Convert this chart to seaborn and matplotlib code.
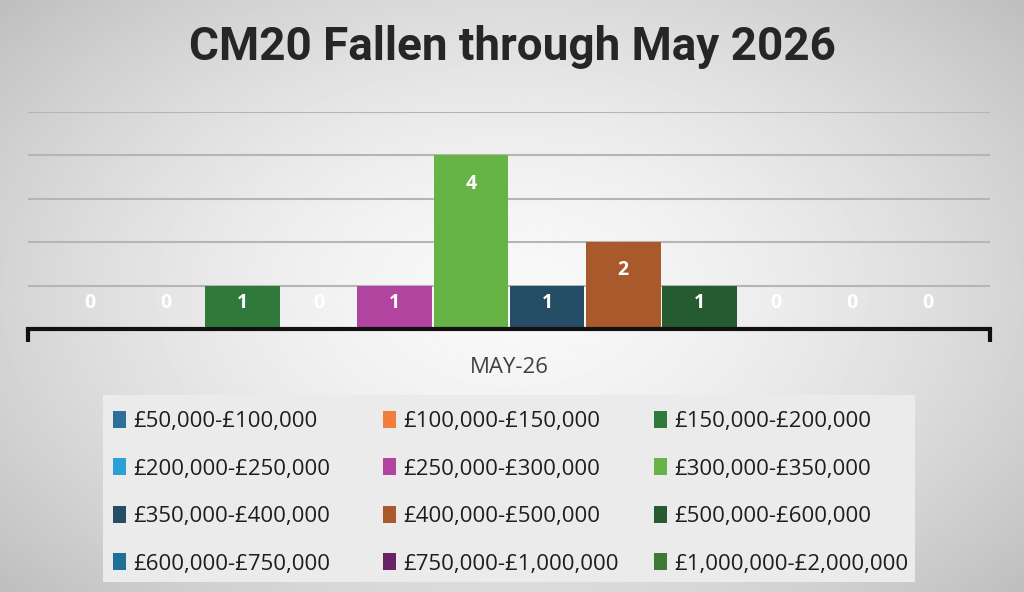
import numpy as np
import pandas as pd
import matplotlib.pyplot as plt
import seaborn as sns
from matplotlib.patches import Rectangle

# Chart data
months = ['MAY-26']
bands = ['£50,000-£100,000', '£100,000-£150,000', '£150,000-£200,000',
         '£200,000-£250,000', '£250,000-£300,000', '£300,000-£350,000',
         '£350,000-£400,000', '£400,000-£500,000', '£500,000-£600,000',
         '£600,000-£750,000', '£750,000-£1,000,000', '£1,000,000-£2,000,000']
counts = [0, 0, 1, 0, 1, 4, 1, 2, 1, 0, 0, 0]
colours = ['#2e6e9a', '#f07f3c', '#2f7a3a', '#2aa0d8', '#b0449e', '#66b446',
           '#254e66', '#a85a2c', '#265a30', '#1f6f96', '#6a2266', '#3e7a35']

df = pd.DataFrame({'month': months * len(bands), 'band': bands, 'count': counts})

sns.set_theme(style='white')
plt.rcParams['font.family'] = ['Open Sans', 'DejaVu Sans']

fig = plt.figure(figsize=(10.24, 5.92), dpi=100)

# Soft radial grey background
bg = fig.add_axes([0, 0, 1, 1], zorder=-10)
yy, xx = np.mgrid[-1:1:300j, -1:1:500j]
r = np.sqrt((xx * 0.9) ** 2 + (yy * 0.8) ** 2)
shade = 0.975 - 0.17 * np.clip(r, 0, 1.3) ** 1.6
bg.imshow(shade, cmap='gray', vmin=0, vmax=1, aspect='auto', extent=[0, 1, 0, 1])
bg.axis('off')

ax = fig.add_axes([28 / 1024, 263 / 592, 962 / 1024, 217 / 592])
ax.patch.set_alpha(0)

sns.barplot(data=df, x='month', y='count', hue='band', hue_order=bands,
            palette=colours, saturation=1, width=0.95, gap=0.02,
            linewidth=0, legend=True, ax=ax, zorder=3)

ax.set_xlim(-0.5, 0.5)
ax.set_ylim(0, 5)
ax.set_yticks(range(0, 6))
ax.yaxis.grid(True, color='#b5b5b5', linewidth=1.5, zorder=0)
ax.set_yticklabels([])
ax.tick_params(axis='y', length=0)
for s in ['top', 'right', 'left']:
    ax.spines[s].set_visible(False)
ax.spines['bottom'].set_linewidth(3)
ax.spines['bottom'].set_color('#111111')
ax.spines['bottom'].set_zorder(5)
ax.set_xlabel('')
ax.set_ylabel('')
ax.set_xticks([-0.5, 0.5], minor=True)
ax.tick_params(axis='x', which='minor', bottom=True, direction='out',
               length=9, width=3, color='#111111')
ax.tick_params(axis='x', which='major', length=0, pad=20, labelsize=16,
               labelcolor='#404040')

# Value labels inside the bars
for bar, v in zip(ax.patches, counts):
    cx = bar.get_x() + bar.get_width() / 2
    ypos = max(v - 0.65, 0.6)
    ax.text(cx, ypos, str(v), ha='center', va='center', color='white',
            fontsize=14, fontweight='bold', zorder=6)

# Legend: grey panel with three fixed-width columns
handles, labels = ax.get_legend_handles_labels()
ax.get_legend().remove()
fig.patches.append(Rectangle((103 / 1024, 10 / 592), 812 / 1024, 187 / 592,
                             transform=fig.transFigure, facecolor='#ebebeb',
                             edgecolor='none', zorder=-5))
col_x = [113, 383, 654]
for c in range(3):
    idx = [c, c + 3, c + 6, c + 9]
    leg = fig.legend([handles[i] for i in idx], [labels[i] for i in idx],
                     loc='upper left', bbox_to_anchor=(col_x[c] / 1024, 1 - 411 / 592),
                     ncol=1, fontsize=16, frameon=False, handlelength=0.6,
                     handleheight=0.8, handletextpad=0.3, labelspacing=1.18,
                     borderpad=0, borderaxespad=0)
    for t in leg.get_texts():
        t.set_color('#1e1e1e')

fig.text(0.5, 1 - 47 / 592, 'CM20 Fallen through May 2026', ha='center',
         va='center', fontsize=33, fontweight='bold', color='#262626',
         family=['Roboto', 'DejaVu Sans'])

fig.savefig('out.png', dpi=100)
